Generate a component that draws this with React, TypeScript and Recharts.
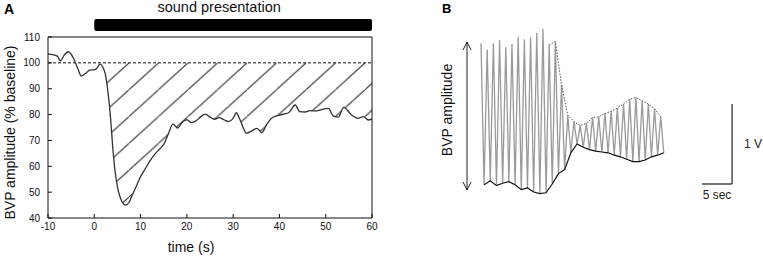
import React from 'react';
import { ComposedChart, LineChart, Line, Area, XAxis, YAxis, ReferenceLine, ReferenceArea } from 'recharts';

const FONT = '"Liberation Sans", Arial, sans-serif';

// Panel A: BVP amplitude (% of baseline) over time
const timeA = [
  -10, -9, -8, -7.3, -6.5, -5.6, -4.5, -3.5, -2.8, -1.8, -1, 0, 0.6, 1.2, 1.8, 2.4, 3, 3.5, 4, 4.5, 5, 5.5, 6,
  6.8, 7.5, 8, 9, 10, 11, 12, 13, 14, 15, 16, 17, 18, 19, 20, 21, 22, 23, 24, 25, 26, 27, 28, 29, 30, 30.7,
  31.5, 32.9, 34.3, 35.1, 36.2, 37.2, 38.3, 40, 42, 43.4, 44.4, 45.5, 46.6, 48, 48.8, 50.6, 51.6, 52.7, 53.9,
  55.6, 57, 58.1, 59.2, 60,
];
const bvpA = [
  103.5, 103.2, 102.6, 100.8, 103.0, 104.3, 101.8, 97.5, 94.9, 96.0, 97.2, 97.3, 98.0, 99.5, 98.5, 95.5, 88, 79,
  67, 58, 52, 48.5, 46.3, 45, 46, 48, 52, 56, 59, 62, 64.5, 66.5, 68.5, 72.5, 76.3, 74.8, 77, 78, 76.9, 77.6,
  79.2, 80.2, 79, 78.2, 78.8, 78, 77.3, 78.5, 80.7, 77.9, 72.8, 74, 74.7, 73, 76, 78.6, 79.8, 80.7, 83.7, 81.1,
  81, 81.5, 81.4, 81.8, 82.4, 79.5, 79, 82.8, 79.8, 78.5, 79.2, 77.9, 78.3,
];
const baseline = 100;
const hatchStart = 1.8;
const soundOn = 0;
const soundOff = 60;
const xTicksA = [-10, 0, 10, 20, 30, 40, 50, 60];
const yTicksA = [40, 50, 60, 70, 80, 90, 100, 110];

// Panel B: raw BVP trace, one peak + one trough per beat (volts)
const beatUpper = [
  1.96, 1.88, 1.96, 2.0, 1.91, 1.95, 2.04, 2.01, 2.03, 2.09, 2.14, 1.94, 1.98, 1.44, 1.06, 0.98, 0.93, 0.96,
  1.03, 1.04, 1.08, 1.11, 1.15, 1.2, 1.26, 1.28, 1.24, 1.2, 1.14, 1.04,
];
const beatLower = [
  0.19, 0.24, 0.18, 0.21, 0.23, 0.19, 0.13, 0.15, 0.1, 0.08, 0.09, 0.2, 0.33, 0.38, 0.59, 0.7, 0.66, 0.63,
  0.61, 0.6, 0.59, 0.56, 0.54, 0.51, 0.48, 0.48, 0.5, 0.54, 0.56, 0.59,
];
const firstBeat = 6.83; // s
const beatPeriod = 1.033; // s
const envelopeFrom = 11;
const ampArrow = [0.125, 1.975];
const arrowT = 4.5;
const scaleT0 = 43.67;
const scaleV0 = 0.2;
const scaleSec = 5;
const scaleVolt = 1;

const rowsA = timeA.map((t, i) => ({
  t,
  v: bvpA[i],
  hatch: t >= hatchStart ? [bvpA[i], baseline] : null,
}));

const rowsB = beatUpper.flatMap((up, i) => {
  const t = firstBeat + i * beatPeriod;
  return [
    { t, wave: up, top: i >= envelopeFrom ? up : null, bottom: null },
    { t: t + beatPeriod / 2, wave: beatLower[i], top: null, bottom: beatLower[i] },
  ];
});

const yLabelA = ({ viewBox }: any) => {
  const x = viewBox.x + 10;
  const y = viewBox.y + viewBox.height / 2 + 5;
  return (
    <text x={x} y={y} transform={`rotate(-90, ${x}, ${y})`} textAnchor="middle" dominantBaseline="central"
      fontSize={14} fill="#111">
      BVP amplitude (% baseline)
    </text>
  );
};

const xLabelA = ({ viewBox }: any) => (
  <text x={viewBox.x + viewBox.width / 2 - 19} y={viewBox.y + 34} textAnchor="middle" fontSize={14} fill="#111">
    time (s)
  </text>
);

const soundLabel = ({ viewBox }: any) => (
  <text x={viewBox.x + viewBox.width / 2 - 14} y={viewBox.y - 7} textAnchor="middle" fontSize={14.5} fill="#111">
    sound presentation
  </text>
);

const ampLabel = ({ viewBox }: any) => {
  const x = viewBox.x - 20;
  const y = viewBox.y + viewBox.height / 2 - 6;
  return (
    <text x={x} y={y} transform={`rotate(-90, ${x}, ${y})`} textAnchor="middle" dominantBaseline="central"
      fontSize={14} fill="#111">
      BVP amplitude
    </text>
  );
};

const ArrowShape = (p: any) => {
  const { x1, y1, y2 } = p;
  const top = Math.min(y1, y2);
  const bot = Math.max(y1, y2);
  return (
    <g stroke="#222" strokeWidth={1} fill="none">
      <line x1={x1} y1={top} x2={x1} y2={bot} />
      <polyline points={`${x1 - 4},${top + 8} ${x1},${top} ${x1 + 4},${top + 8}`} />
      <polyline points={`${x1 - 4},${bot - 8} ${x1},${bot} ${x1 + 4},${bot - 8}`} />
    </g>
  );
};

export default function App() {
  return (
    <div style={{ position: 'absolute', left: 0, top: 0, width: 763, height: 259, background: '#fff', fontFamily: FONT, overflow: 'hidden' }}>
      <div style={{ position: 'absolute', left: 0, top: 0 }}>
        <ComposedChart width={390} height={259} data={rowsA} margin={{ top: 36, right: 17, bottom: 0, left: 0 }}>
          <defs>
            <pattern id="hatchA" patternUnits="userSpaceOnUse" x={99.5} y={62.86} width={29.5} height={26.85}>
              <line x1={-1} y1={27.76} x2={30.5} y2={-0.91} stroke="#222" strokeWidth={1} />
            </pattern>
          </defs>
          <XAxis dataKey="t" type="number" domain={[-10, 60]} ticks={xTicksA} interval={0} allowDataOverflow
            tickSize={-4} tickMargin={9} tick={{ fontSize: 10, fill: '#111' }} stroke="#111" height={41}
            label={xLabelA} />
          <XAxis xAxisId="top" dataKey="t" type="number" orientation="top" domain={[-10, 60]} ticks={xTicksA}
            interval={0} allowDataOverflow tickSize={-4} tick={false} stroke="#111" height={1} />
          <YAxis type="number" domain={[40, 110]} ticks={yTicksA} interval={0} allowDataOverflow tickSize={-4}
            tickMargin={12} tick={{ fontSize: 10, fill: '#111' }} stroke="#111" width={48} label={yLabelA} />
          <YAxis yAxisId="right" orientation="right" type="number" domain={[40, 110]} ticks={yTicksA} interval={0}
            allowDataOverflow tickSize={-4} tick={false} stroke="#111" width={1} />
          <ReferenceArea x1={soundOn} x2={soundOff} y1={112.3} y2={117} ifOverflow="visible" fill="#000"
            fillOpacity={1} stroke="none" radius={2} label={soundLabel} />
          <Area dataKey="hatch" type="monotone" fill="url(#hatchA)" fillOpacity={1} stroke="none"
            isAnimationActive={false} activeDot={false} />
          <ReferenceLine y={baseline} stroke="#111" strokeDasharray="3 2" strokeWidth={1} />
          <Line dataKey="v" type="monotone" stroke="#333" strokeWidth={1.3} dot={false} activeDot={false}
            isAnimationActive={false} />
        </ComposedChart>
      </div>
      <div style={{ position: 'absolute', left: 440, top: 16 }}>
        <LineChart width={323} height={200} data={rowsB} margin={{ top: 0, right: 0, bottom: 0, left: 0 }}>
          <XAxis dataKey="t" type="number" domain={[0, 53.83]} hide allowDataOverflow />
          <YAxis type="number" domain={[-0.2, 2.3]} hide allowDataOverflow />
          <Line dataKey="wave" type="linear" stroke="#9a9a9a" strokeWidth={1.3} dot={false} activeDot={false}
            isAnimationActive={false} />
          <Line dataKey="top" type="linear" stroke="#555" strokeWidth={1} strokeDasharray="1.5 1.5" connectNulls
            dot={false} activeDot={false} isAnimationActive={false} />
          <Line dataKey="bottom" type="linear" stroke="#111" strokeWidth={1.2} connectNulls dot={false}
            activeDot={false} isAnimationActive={false} />
          <ReferenceLine segment={[{ x: arrowT, y: ampArrow[0] }, { x: arrowT, y: ampArrow[1] }]}
            shape={ArrowShape} label={ampLabel} ifOverflow="visible" />
          <ReferenceLine segment={[{ x: scaleT0, y: scaleV0 }, { x: scaleT0 + scaleSec, y: scaleV0 }]}
            stroke="#222" strokeWidth={1.2} ifOverflow="visible"
            label={{ value: '5 sec', position: 'bottom', offset: 6, fontSize: 12, fill: '#222' }} />
          <ReferenceLine segment={[{ x: scaleT0 + scaleSec, y: scaleV0 }, { x: scaleT0 + scaleSec, y: scaleV0 + scaleVolt }]}
            stroke="#222" strokeWidth={1.2} ifOverflow="visible"
            label={{ value: '1 V', position: 'right', offset: 12, fontSize: 12, fill: '#222' }} />
        </LineChart>
      </div>
      <div style={{ position: 'absolute', left: 4, top: 2, fontSize: 14, fontWeight: 'bold', lineHeight: '14px' }}>A</div>
      <div style={{ position: 'absolute', left: 442, top: 2, fontSize: 13, fontWeight: 'bold', lineHeight: '13px' }}>B</div>
    </div>
  );
}
